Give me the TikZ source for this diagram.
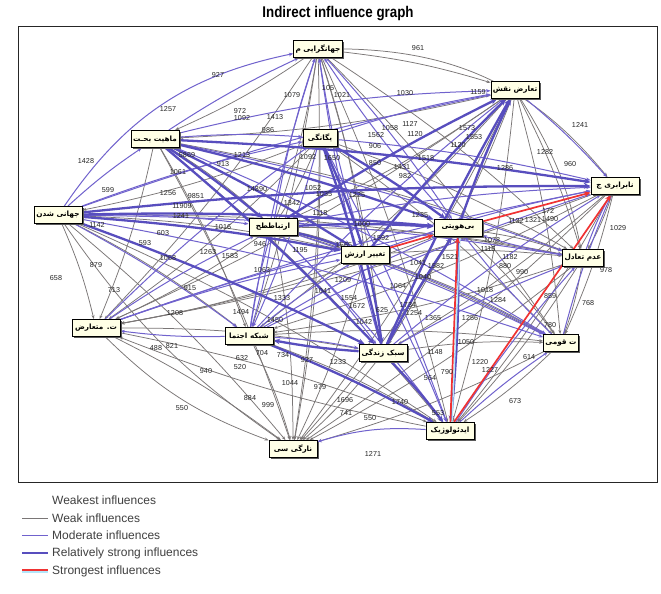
\documentclass[tikz,border=0pt]{standalone}
\usepackage{fontspec}
\setmainfont{Liberation Sans}
\newfontfamily\arabicfont[Script=Arabic]{DejaVu Sans}
\TeXXeTstate=1
\usetikzlibrary{arrows.meta,shadows}
\pgfdeclarelayer{back}
\pgfdeclarelayer{edges}
\pgfdeclarelayer{nums}
\pgfsetlayers{back,edges,nums,main}
\definecolor{wk}{RGB}{122,118,118}
\definecolor{md}{RGB}{112,98,205}
\definecolor{rs}{RGB}{88,78,190}
\definecolor{st}{RGB}{240,50,50}
\definecolor{boxfill}{RGB}{255,255,230}
\tikzset{
 fbox/.style={draw=black, line width=0.9pt, fill=boxfill, inner sep=1.8pt,
   minimum height=17pt, minimum width=48pt,
   font=\arabicfont\bfseries\fontsize{7.3}{8}\selectfont,
   general shadow={fill=black!65, shadow xshift=1.5pt, shadow yshift=-1.5pt}},
 wkE/.style={draw=wk, line width=0.75pt, -{Stealth[length=4pt,width=3pt]}},
 mdE/.style={draw=md, line width=1pt, -{Stealth[length=4.5pt,width=3.5pt]}},
 rsE/.style={draw=rs, line width=2.3pt, -{Stealth[length=6.5pt,width=5.5pt]}},
 stE/.style={draw=st, line width=1.7pt, -{Stealth[length=6.5pt,width=5.5pt]}},
 num/.style={font=\fontsize{7.2}{8}\selectfont, inner sep=0pt, text=black!85},
 legtxt/.style={font=\fontsize{12}{13}\selectfont, text=black!75, anchor=west, inner sep=0pt}
}
\begin{document}
\begin{tikzpicture}[x=1pt,y=-1pt]
\useasboundingbox (0,0) rectangle (661,594);
\begin{pgfonlayer}{back}
\fill[white] (0,0) rectangle (661,594);
\end{pgfonlayer}
\node[font=\bfseries\fontsize{15.5}{17}\selectfont] (title) at (338,14) {\scalebox{0.86}[1]{Indirect influence graph}};
\draw[black!85, line width=1pt] (18,27) rectangle (657,482);

% nodes
\node[fbox] (J)  at (318,49)  {\beginR جهانگرایی م\endR};
\node[fbox] (T)  at (515,90)  {\beginR تعارض نقش\endR};
\node[fbox] (M)  at (155,139) {\beginR ماهیت بحـت\endR};
\node[fbox, minimum width=34pt] (B)  at (320,138) {\beginR یگانگی\endR};
\node[fbox] (N)  at (615,186) {\beginR نابرابری ج\endR};
\node[fbox] (JS) at (58,215)  {\beginR جهانی شدن\endR};
\node[fbox] (E)  at (273,227) {\beginR ارتباططح\endR};
\node[fbox] (H)  at (458,228) {\beginR بی‌هویتی\endR};
\node[fbox] (TA) at (365,255) {\beginR تغییر ارزش\endR};
\node[fbox, minimum width=40pt] (AT) at (583,258) {\beginR عدم تعادل\endR};
\node[fbox] (MT) at (96,328)  {\beginR ت. متعارض\endR};
\node[fbox] (SH) at (249,336) {\beginR شبکه اجتما\endR};
\node[fbox] (SZ) at (383,353) {\beginR سبک زندگی\endR};
\node[fbox, minimum width=33pt] (Q)  at (561,343) {\beginR ت قومی\endR};
\node[fbox] (I)  at (450,431) {\beginR ایدئولوژیک\endR};
\node[fbox] (S)  at (293,449) {\beginR نارگی سی\endR};

\begin{pgfonlayer}{edges}
% weak influences
\foreach \a/\b in {J/M,J/E,J/TA,J/SZ,J/SH,J/S,J/MT,J/AT,J/Q,J/T,
  T/M,T/E,T/SZ,T/SH,T/AT,T/Q,T/S,T/I,T/MT,
  M/S,M/MT,M/SH,M/E,M/AT,M/I,
  B/S,B/MT,B/AT,B/Q,B/E,
  N/SZ,N/SH,N/S,N/Q,N/AT,N/MT,
  JS/MT,JS/S,JS/SH,JS/TA,JS/AT,JS/I,
  E/S,E/MT,E/AT,E/Q,
  H/S,H/MT,H/Q,H/AT,
  TA/S,TA/MT,TA/AT,TA/Q,
  AT/S,AT/SH,AT/Q,AT/I,
  MT/S,MT/SZ,MT/I,
  SH/S,SH/Q,SH/I,
  SZ/S,SZ/Q,Q/S,Q/I,I/MT,J/I,N/I,B/JS,E/TA}
  \draw[wkE] (\a) to[bend left=5] (\b);
\draw[wkE] (J) to[bend left=25] (N);
\draw[wkE] (JS) to[bend right=10] (S);
\draw[wkE] (MT) to[bend right=12] (S);
\draw[wkE] (T) to[bend left=10] (AT);
% moderate
\foreach \a/\b in {M/J,JS/M,JS/B,JS/E,M/B,B/T,SH/T,
  E/N,B/N,TA/N,SZ/N,Q/N,AT/N,SH/H,Q/H,AT/H,SH/MT,E/SZ,SH/SZ,I/Q,
  MT/H,MT/TA,JS/SH,JS/Q,SH/N,E/I,TA/I,B/I,B/SH,E/SH,T/N,J/H,
  M/AT,JS/AT,MT/E,SH/TA,SZ/AT,E/Q,TA/Q,SZ/J,E/J,TA/J,H/J,SH/J,
  MT/B,MT/N,M/Q,JS/T,SH/E,I/AT}
  \draw[mdE] (\a) to[bend left=4] (\b);
\draw[mdE] (JS) to[bend left=22] (J);
\draw[mdE] (I) to[bend right=10] (S);
\draw[mdE] (M) to[bend left=6] (T);
% relatively strong
\foreach \a/\b in {JS/H,M/N,B/H,E/H,M/H,JS/SZ,B/SZ,SZ/I,H/T,TA/T,SZ/SH,
  JS/N,B/TA,SH/I,TA/SZ,E/TA,M/SZ,JS/TA,M/TA,M/E,SZ/H,E/T,SZ/T,H/I}
  \draw[rsE] (\a) to[bend left=3] (\b);
% strongest
\draw[draw=cyan!30, line width=1.3pt] ([xshift=2pt]I.north) -- ([xshift=2pt]H.south);
\foreach \a/\b in {TA/H,I/H,H/N}
  \draw[stE] (\a) -- (\b);
\draw[stE] ([xshift=4pt]I.north) -- ([xshift=-4pt]N.south);
\end{pgfonlayer}

% edge values
\begin{pgfonlayer}{nums}
\foreach \t/\x/\y in {961/418/48, 927/218/75, 1079/292/95, 105/328/88, 1021/342/95,
 1030/405/93, 1159/478/92, 1257/168/109, 972/240/111, 1092/242/118, 1413/275/117,
 986/268/130, 1241/580/125, 1127/410/124, 1058/390/128, 1120/415/134, 1562/376/135,
 1573/467/128, 1120/458/145, 1553/474/137, 1282/545/152, 960/570/164, 1428/86/161,
 5869/187/155, 913/223/164, 1213/242/155, 1061/178/172, 1286/505/168, 599/108/190,
 1256/168/193, 9851/196/196, 11909/182/206, 1241/181/216, 1016/223/227, 14890/257/189,
 1142/97/225, 603/163/233, 593/145/243, 1263/208/252, 879/96/265, 658/56/278,
 1068/168/258, 713/114/290, 1208/175/313, 488/156/348, 821/172/346, 940/206/371,
 550/182/408, 884/250/398, 999/268/405, 1044/290/383, 979/320/387, 1696/345/400,
 741/346/413, 550/370/418, 1740/400/402, 553/438/413, 1271/373/454, 673/515/401,
 790/447/372, 564/430/378, 1220/480/362, 1227/490/370, 614/529/357, 1050/466/342,
 780/550/325, 768/588/303, 859/550/296, 978/606/270, 1029/618/228, 1132/516/221,
 1321/533/220, 1490/550/219, 172/548/211, 1182/510/257, 880/505/266, 990/522/272,
 1078/492/240, 1116/488/249, 1521/450/257, 906/375/146, 850/375/163, 1431/402/167,
 982/405/176, 1518/426/158, 1092/308/157, 1650/332/158, 1052/313/188, 1035/324/194,
 1000/362/224, 1592/381/238, 1225/357/195, 1235/420/215, 1041/418/263, 1582/436/266,
 1040/423/277, 1064/398/286, 1209/343/280, 1041/323/291, 1554/349/298, 1672/357/306,
 1734/408/305, 1254/414/313, 625/382/310, 1333/282/298, 1583/230/256, 915/190/288,
 1494/241/312, 1450/275/320, 553/262/342, 704/262/353, 734/283/355, 927/307/360,
 632/242/358, 520/240/367, 1233/338/362, 1042/364/322, 1148/435/352, 1365/433/318,
 1018/485/290, 1284/498/300, 1256/470/318, 946/260/244, 1063/262/270, 1195/300/250,
 1118/320/213, 1565/344/245, 1342/292/203}
  \node[num] at (\x,\y) {\t};
\end{pgfonlayer}

% legend
\node[legtxt] (l1) at (52,500) {Weakest influences};
\node[legtxt] (l2) at (52,518) {Weak influences};
\node[legtxt] (l3) at (52,535) {Moderate influences};
\node[legtxt] (l4) at (52,553) {Relatively strong influences};
\node[legtxt] (l5) at (52,571) {Strongest influences};
\draw[wk, line width=0.7pt] (22,518) -- (48,518);
\draw[md, line width=1pt] (22,535) -- (48,535);
\draw[rs, line width=2.3pt] (22,553) -- (48,553);
\draw[cyan!30, line width=1.3pt] (22,572) -- (48,572);
\draw[st, line width=1.3pt] (22,570) -- (48,570);
\end{tikzpicture}
\end{document}
